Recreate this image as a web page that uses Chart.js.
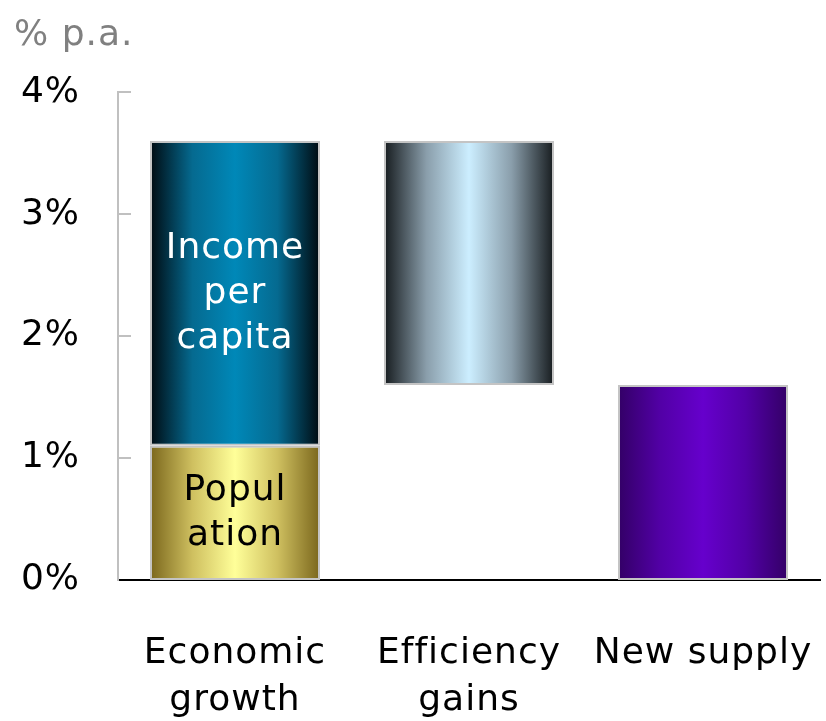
<!DOCTYPE html>
<html>
<head>
<meta charset="utf-8">
<script src="https://cdn.jsdelivr.net/npm/chart.js@4/dist/chart.umd.min.js"></script>
<style>
	body { margin: 0; background: #fff; }
	#wrap { width: 826px; height: 721px; }
</style>
</head>
<body>
<div id="wrap"><canvas id="myChart"></canvas></div>
<script>
// data
var categories = [['Economic', 'growth'], ['Efficiency', 'gains'], ['New supply']];
var population = [[0, 1.1], null, null];
var incomePerCapita = [[1.1, 3.6], null, null];
var efficiencyGains = [null, [1.6, 3.6], null];
var newSupply = [null, null, [0, 1.6]];
var yTicks = [1, 2, 3, 4];
var barLabels = [['Popul', 'ation'], ['Income', 'per', 'capita'], [], []];
var barLabelColors = ['#000000', '#ffffff', '#000000', '#000000'];

var FONT = 'DejaVu Sans';
var FS = 36;
var LS = '1px';
var BAR_PCT = 0.7265;

// horizontal gradient (dark edges, light middle)
function grad(edge, mid, center){
	return function(c){
		var chart = c.chart;
		if(!chart.chartArea) return center;
		var xs = chart.scales.x;
		var x = xs.getPixelForValue(c.dataIndex);
		var w = (chart.chartArea.width / categories.length) * BAR_PCT;
		var g = chart.ctx.createLinearGradient(x - w/2, 0, x + w/2, 0);
		g.addColorStop(0, edge);
		g.addColorStop(0.25, mid);
		g.addColorStop(0.5, center);
		g.addColorStop(0.75, mid);
		g.addColorStop(1, edge);
		return g;
	};
}

var spacing = {
	id: 'spacing',
	beforeLayout: function(chart){ chart.ctx.letterSpacing = LS; },
	beforeDraw: function(chart){ chart.ctx.letterSpacing = LS; }
};

// short tick marks pointing into the plot
var innerTicks = {
	id: 'innerTicks',
	afterDatasetsDraw: function(chart){
		var ctx = chart.ctx, ys = chart.scales.y, left = chart.chartArea.left;
		ctx.save();
		ctx.strokeStyle = '#c0c0c0';
		ctx.lineWidth = 2;
		yTicks.forEach(function(v){
			var y = Math.round(ys.getPixelForValue(v));
			ctx.beginPath();
			ctx.moveTo(left, y);
			ctx.lineTo(left + 13, y);
			ctx.stroke();
		});
		ctx.restore();
	}
};

// text inside the bars
var inBarLabels = {
	id: 'inBarLabels',
	afterDatasetsDraw: function(chart){
		var ctx = chart.ctx;
		ctx.save();
		ctx.letterSpacing = LS;
		ctx.font = FS + 'px "' + FONT + '"';
		ctx.textAlign = 'center';
		ctx.textBaseline = 'middle';
		chart.data.datasets.forEach(function(ds, i){
			var lines = barLabels[i];
			if(!lines || !lines.length) return;
			chart.getDatasetMeta(i).data.forEach(function(el, j){
				if(ds.data[j] == null) return;
				var cy = (el.y + el.base) / 2;
				var lh = 45;
				ctx.fillStyle = barLabelColors[i];
				lines.forEach(function(t, k){
					ctx.fillText(t, el.x, cy + (k - (lines.length - 1) / 2) * lh);
				});
			});
		});
		ctx.restore();
	}
};

var common = {
	grouped: false,
	skipNull: true,
	barPercentage: BAR_PCT,
	categoryPercentage: 1,
	borderColor: '#c4c4c4',
	borderWidth: 2,
	borderSkipped: false
};

var ctx = document.getElementById('myChart').getContext('2d');
var chart = new Chart(ctx, {
	type: 'bar',
	data: {
		labels: categories,
		datasets: [
			Object.assign({ label: 'Population', data: population,
				backgroundColor: grad('#7a661c', '#cfc060', '#ffff99') }, common),
			Object.assign({ label: 'Income per capita', data: incomePerCapita,
				backgroundColor: grad('#000a10', '#056a90', '#0088b8') }, common),
			Object.assign({ label: 'Efficiency gains', data: efficiencyGains,
				backgroundColor: grad('#161b1e', '#8a9eab', '#cceeff') }, common),
			Object.assign({ label: 'New supply', data: newSupply,
				backgroundColor: grad('#330066', '#5200a6', '#6600cc') }, common)
		]
	},
	options: {
		responsive: true,
		maintainAspectRatio: false,
		animation: false,
		layout: { padding: { left: 14, right: 6, top: 4, bottom: 0 } },
		plugins: {
			legend: { display: false },
			tooltip: { enabled: false },
			title: {
				display: true,
				text: '% p.a.',
				align: 'start',
				color: '#808080',
				font: { family: FONT, size: FS, weight: 'normal', lineHeight: 1.2 },
				padding: { top: 10, bottom: 35 }
			}
		},
		scales: {
			x: {
				grid: { display: false, drawTicks: false },
				border: { color: '#000000', width: 2 },
				ticks: {
					color: '#000000',
					padding: 50,
					maxRotation: 0,
					autoSkip: false,
					font: { family: FONT, size: FS, lineHeight: 1.3 }
				},
				afterFit: function(s){ s.height = 141; s.paddingLeft = 0; s.paddingRight = 0; }
			},
			y: {
				min: 0,
				max: 4,
				grid: { display: false, drawTicks: false },
				border: { color: '#c0c0c0', width: 2 },
				ticks: {
					stepSize: 1,
					color: '#000000',
					padding: 38,
					font: { family: FONT, size: FS },
					callback: function(v){ return v + '%'; }
				},
				afterFit: function(s){ s.width = 104; }
			}
		}
	},
	plugins: [spacing, innerTicks, inBarLabels]
});
</script>
</body>
</html>
